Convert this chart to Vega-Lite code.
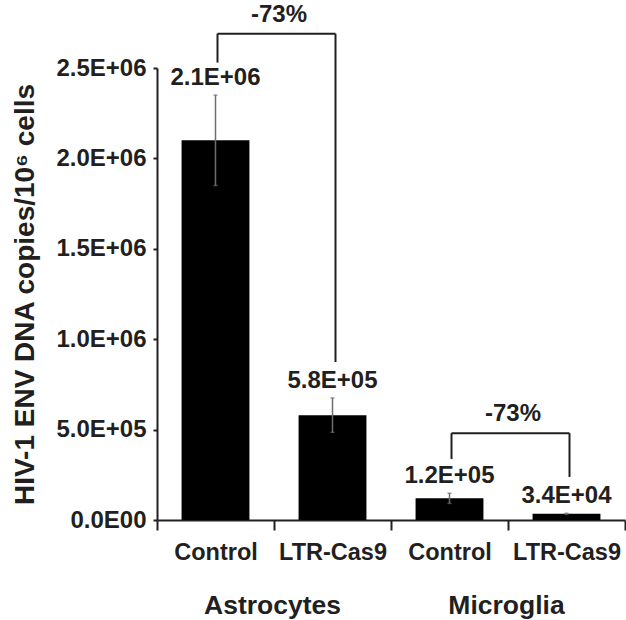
{
  "$schema": "https://vega.github.io/schema/vega-lite/v6.json",
  "width": 468,
  "height": 452,
  "autosize": {"type": "none"},
  "padding": {"left": 157, "top": 68, "right": 1, "bottom": 100},
  "background": "white",
  "config": {
    "view": {"stroke": null},
    "font": "Liberation Sans",
    "text": {"font": "Liberation Sans", "fontWeight": "bold", "fontSize": 24, "color": "#231f20"}
  },
  "datasets": {
    "bars": [
      {"cell": "Astrocytes", "treatment": "Control", "key": "Astrocytes|Control", "mean": 2100000, "err": 250000, "label": "2.1E+06"},
      {"cell": "Astrocytes", "treatment": "LTR-Cas9", "key": "Astrocytes|LTR-Cas9", "mean": 580000, "err": 95000, "label": "5.8E+05"},
      {"cell": "Microglia", "treatment": "Control", "key": "Microglia|Control", "mean": 120000, "err": 28000, "label": "1.2E+05"},
      {"cell": "Microglia", "treatment": "LTR-Cas9", "key": "Microglia|LTR-Cas9", "mean": 34000, "err": 3000, "label": "3.4E+04"}
    ],
    "brackets": [
      {"cell": "Astrocytes", "left": "Astrocytes|Control", "right": "Astrocytes|LTR-Cas9", "top": 2690000, "leftEnd": 2530000, "rightEnd": 874000, "text": "-73%"},
      {"cell": "Microglia", "left": "Microglia|Control", "right": "Microglia|LTR-Cas9", "top": 480000, "leftEnd": 337000, "rightEnd": 238000, "text": "-73%"}
    ]
  },
  "resolve": {"axis": {"x": "independent"}},
  "layer": [
    {
      "data": {"name": "bars"},
      "mark": {"type": "bar", "color": "#000000", "width": {"band": 0.58}},
      "encoding": {
        "x": {
          "field": "key", "type": "nominal", "sort": null,
          "scale": {"paddingInner": 0, "paddingOuter": 0},
          "axis": {
            "title": null,
            "labelExpr": "split(datum.label, '|')[1]",
            "labelAngle": 0,
            "labelFont": "Liberation Sans", "labelFontWeight": "bold", "labelFontSize": 23.5, "labelColor": "#231f20",
            "labelPadding": 10,
            "domainColor": "#231f20", "domainWidth": 2,
            "tickColor": "#231f20", "tickWidth": 2, "tickSize": 10,
            "tickBand": "extent",
            "grid": false
          }
        },
        "y": {
          "field": "mean", "type": "quantitative",
          "title": "HIV-1 ENV DNA copies/10⁶ cells",
          "scale": {"domain": [0, 2500000], "nice": false},
          "axis": {
            "titleFont": "Liberation Sans", "titleFontWeight": "bold", "titleFontSize": 28, "titleColor": "#231f20",
            "titlePadding": 16,
            "values": [0, 500000, 1000000, 1500000, 2000000, 2500000],
            "labelExpr": "datum.value == 0 ? '0.0E00' : (datum.value < 1000000 ? format(datum.value / 100000, '.1f') + 'E+05' : format(datum.value / 1000000, '.1f') + 'E+06')",
            "labelFont": "Liberation Sans", "labelFontWeight": "bold", "labelFontSize": 24, "labelColor": "#231f20",
            "labelPadding": 7,
            "domainColor": "#231f20", "domainWidth": 2,
            "tickColor": "#231f20", "tickWidth": 2, "tickSize": 4,
            "grid": false
          }
        }
      }
    },
    {
      "data": {"name": "bars"},
      "mark": {"type": "errorbar", "color": "#6d6e71", "thickness": 1.5, "ticks": {"size": 4, "color": "#6d6e71"}},
      "encoding": {
        "x": {"field": "key", "type": "nominal", "sort": null, "axis": null},
        "y": {"field": "mean", "type": "quantitative", "title": "HIV-1 ENV DNA copies/10⁶ cells"},
        "yError": {"field": "err"}
      }
    },
    {
      "data": {"name": "bars"},
      "transform": [{"calculate": "datum.mean + datum.err", "as": "upper"}],
      "mark": {"type": "text", "baseline": "bottom", "dy": -5},
      "encoding": {
        "x": {
          "field": "key", "type": "nominal", "sort": null,
          "axis": {
            "title": null,
            "orient": "bottom",
            "offset": 72,
            "labelOffset": -60,
            "labelExpr": "split(datum.label, '|')[1] == 'LTR-Cas9' ? split(datum.label, '|')[0] : ''",
            "labelAngle": 0,
            "labelFont": "Liberation Sans", "labelFontWeight": "bold", "labelFontSize": 26.5, "labelColor": "#231f20",
            "labelPadding": 0,
            "labelBaseline": "top",
            "domain": false, "ticks": false, "grid": false
          }
        },
        "y": {"field": "upper", "type": "quantitative", "title": "HIV-1 ENV DNA copies/10⁶ cells"},
        "text": {"field": "label"}
      }
    },
    {
      "data": {"name": "brackets"},
      "mark": {"type": "rule", "color": "#231f20", "strokeWidth": 2, "xOffset": 2, "x2Offset": 3},
      "encoding": {
        "x": {"field": "left", "type": "nominal", "axis": null},
        "x2": {"field": "right"},
        "y": {"field": "top", "type": "quantitative", "title": "HIV-1 ENV DNA copies/10⁶ cells"}
      }
    },
    {
      "data": {"name": "brackets"},
      "mark": {"type": "rule", "color": "#231f20", "strokeWidth": 2, "xOffset": 2},
      "encoding": {
        "x": {"field": "left", "type": "nominal", "axis": null},
        "y": {"field": "leftEnd", "type": "quantitative", "title": "HIV-1 ENV DNA copies/10⁶ cells"},
        "y2": {"field": "top"}
      }
    },
    {
      "data": {"name": "brackets"},
      "mark": {"type": "rule", "color": "#231f20", "strokeWidth": 2, "xOffset": 3},
      "encoding": {
        "x": {"field": "right", "type": "nominal", "axis": null},
        "y": {"field": "rightEnd", "type": "quantitative", "title": "HIV-1 ENV DNA copies/10⁶ cells"},
        "y2": {"field": "top"}
      }
    },
    {
      "data": {"name": "brackets"},
      "mark": {"type": "text", "baseline": "bottom", "dy": -7, "dx": 5},
      "encoding": {
        "x": {"field": "right", "type": "nominal", "bandPosition": 0, "axis": null},
        "y": {"field": "top", "type": "quantitative", "title": "HIV-1 ENV DNA copies/10⁶ cells"},
        "text": {"field": "text"}
      }
    }
  ]
}
